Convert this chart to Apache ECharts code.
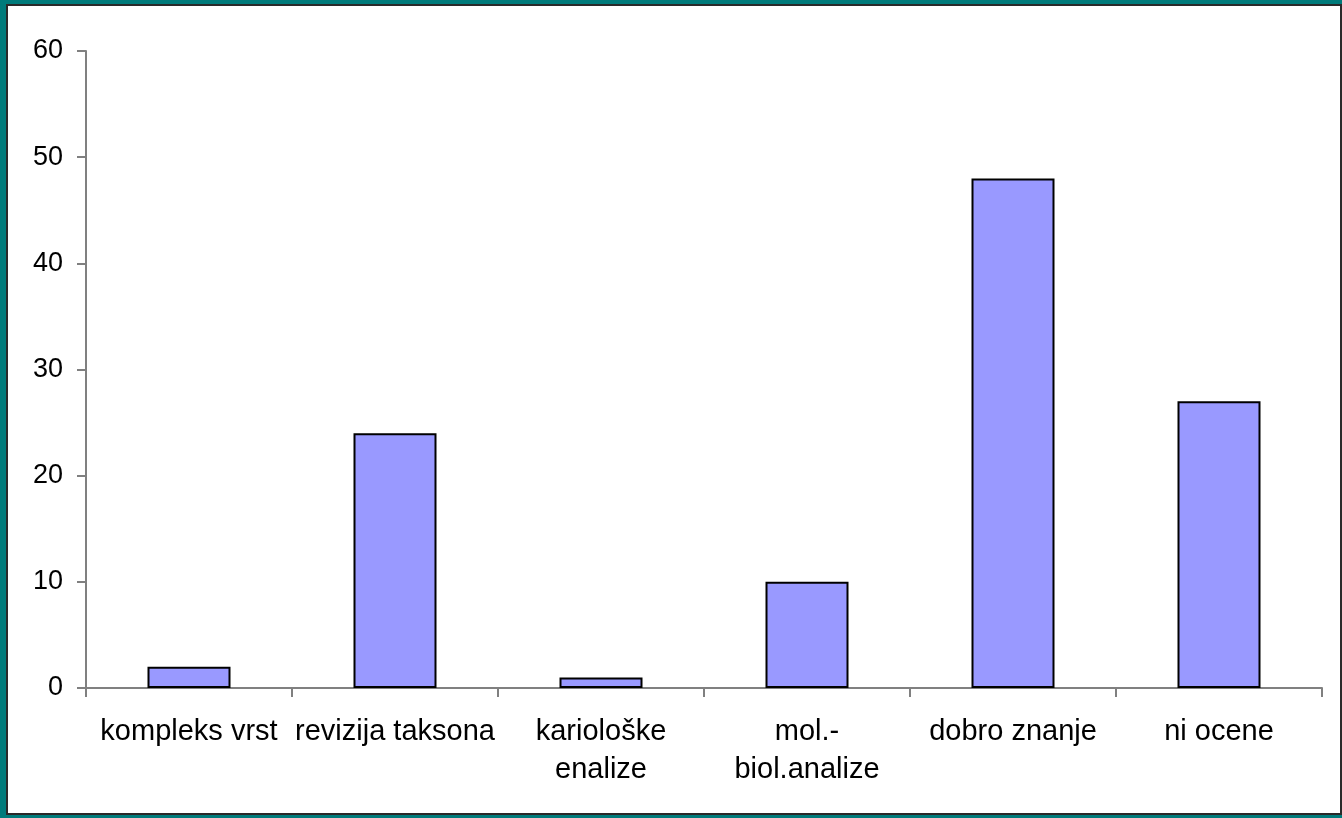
<!DOCTYPE html>
<html>
<head>
<meta charset="utf-8">
<script src="https://cdn.jsdelivr.net/npm/echarts@6/dist/echarts.min.js"></script>
<style>
html,body{margin:0;padding:0;background:#007b7b;}
#chart{width:1342px;height:818px;}
</style>
</head>
<body>
<div id="chart"></div>
<script>
const categories = ['kompleks vrst', 'revizija taksona', 'kariološke\nenalize', 'mol.-\nbiol.analize', 'dobro znanje', 'ni ocene'];
const values = [2, 24, 1, 10, 48, 27];
const yTicks = {min: 0, max: 60, interval: 10};

const chart = echarts.init(document.getElementById('chart'), null, {renderer: 'canvas'});
chart.setOption({
  backgroundColor: '#007b7b',
  animation: false,
  graphic: [{
    type: 'rect',
    z: -10,
    silent: true,
    shape: {x: 7, y: 5, width: 1334, height: 809},
    style: {fill: '#ffffff', stroke: '#2a2a2a', lineWidth: 2}
  }],
  grid: {left: 86, right: 20, top: 51, bottom: 130, containLabel: false},
  xAxis: {
    type: 'category',
    data: categories,
    axisLine: {lineStyle: {color: '#808080', width: 2}},
    axisTick: {show: true, length: 9, lineStyle: {color: '#808080', width: 2}, alignWithLabel: false},
    axisLabel: {
      color: '#000', fontFamily: 'Liberation Sans', fontSize: 29,
      lineHeight: 38, margin: 25, interval: 0
    }
  },
  yAxis: {
    type: 'value',
    min: yTicks.min, max: yTicks.max, interval: yTicks.interval,
    axisLine: {show: true, lineStyle: {color: '#808080', width: 2}},
    axisTick: {show: true, length: 9, lineStyle: {color: '#808080', width: 2}},
    splitLine: {show: false},
    axisLabel: {color: '#000', fontFamily: 'Liberation Sans', fontSize: 27, margin: 23}
  },
  series: [{
    type: 'bar',
    data: values,
    barWidth: 83,
    itemStyle: {color: '#9999ff', borderColor: '#000', borderWidth: 2}
  }]
});
</script>
</body>
</html>
